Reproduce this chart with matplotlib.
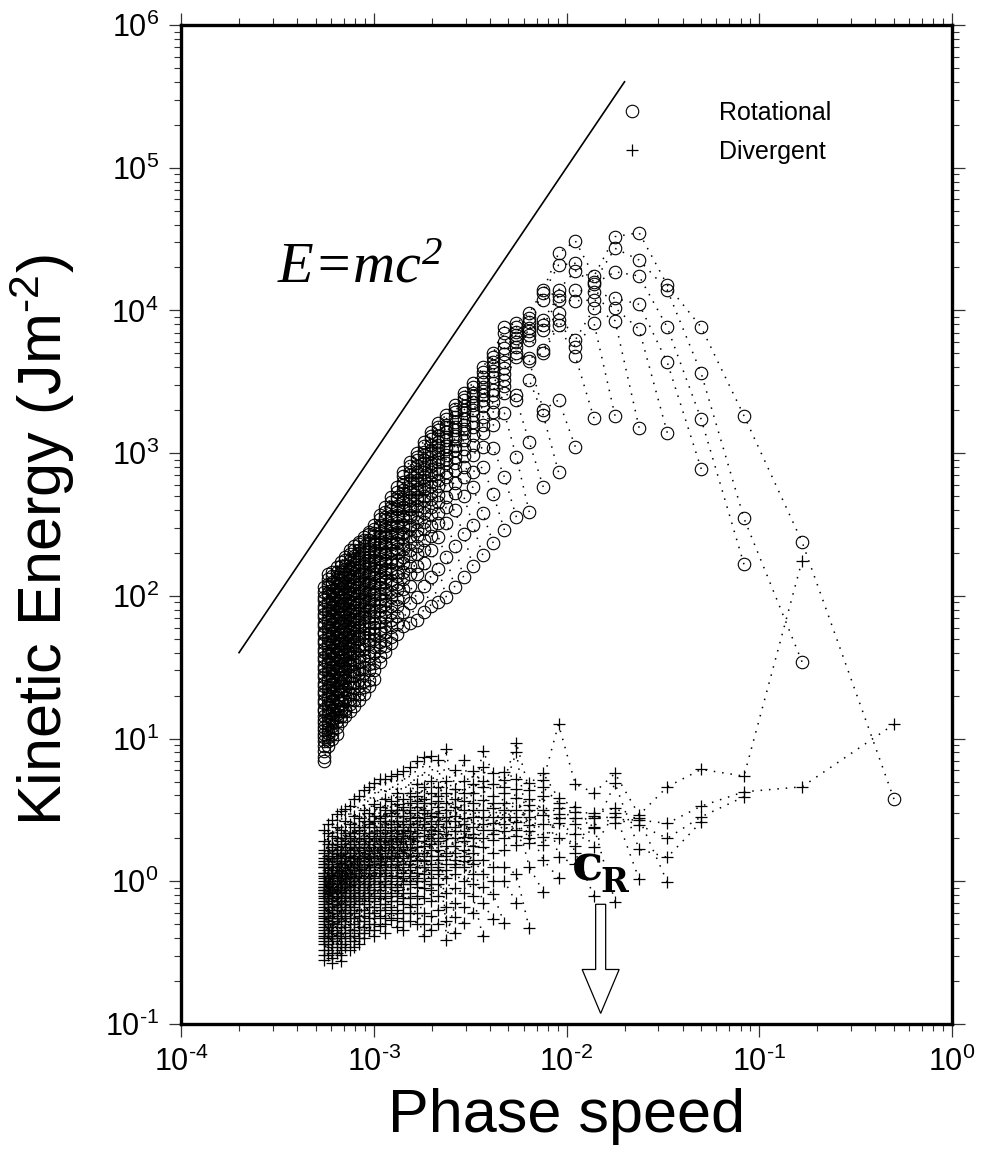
import numpy as np
import matplotlib
matplotlib.use("Agg")
import matplotlib.pyplot as plt
from matplotlib.patches import Polygon
from matplotlib.lines import Line2D
from matplotlib.ticker import LogLocator, NullFormatter, FuncFormatter

plt.rcParams['font.family'] = ['Liberation Sans', 'DejaVu Sans']
plt.rcParams['axes.unicode_minus'] = False
plt.rcParams['mathtext.fontset'] = 'custom'
plt.rcParams['mathtext.rm'] = 'Liberation Sans'
plt.rcParams['mathtext.default'] = 'regular'

# ---------------- data ----------------
# phase speed of each total-wavenumber column n = 1..42
phase_speed = [0.5, 0.1667, 0.08333, 0.05, 0.03333, 0.02381, 0.01786, 0.01389,
               0.01111, 0.009091, 0.007576, 0.006410, 0.005495, 0.004762, 0.004167,
               0.003676, 0.003268, 0.002924, 0.002632, 0.002381, 0.002165, 0.001976,
               0.001812, 0.001667, 0.001538, 0.001425, 0.001323, 0.001232, 0.001149,
               0.001075, 0.001008, 0.000947, 0.000891, 0.000840, 0.000794, 0.000751,
               0.000711, 0.000675, 0.000641, 0.000610, 0.000581, 0.000554]

# log10 of rotational kinetic energy, one list per column (m = 1..n)
rot_log10E = [
 [0.576],
 [2.379, 1.538],
 [3.262, 2.543, 2.221],
 [3.882, 3.559, 3.237, 2.889],
 [4.178, 4.143, 3.882, 3.636, 3.143],
 [4.545, 4.353, 4.241, 4.043, 3.867, 3.178],
 [4.517, 4.435, 4.271, 4.085, 4.019, 3.928, 3.262],
 [4.241, 4.200, 4.185, 4.129, 4.073, 4.015, 3.912, 3.244],
 [4.488, 4.330, 4.278, 4.143, 4.068, 3.793, 3.746, 3.680, 3.045],
 [4.400, 4.318, 4.143, 4.100, 4.073, 3.980, 3.930, 3.896, 3.372, 2.867],
 [4.143, 4.122, 4.073, 3.933, 3.898, 3.863, 3.722, 3.701, 3.302, 3.267, 2.763],
 [3.982, 3.947, 3.919, 3.877, 3.856, 3.828, 3.793, 3.666, 3.645, 3.512, 3.078, 2.587],
 [3.912, 3.884, 3.849, 3.828, 3.807, 3.779, 3.743, 3.701, 3.673, 3.407, 3.372, 2.973, 2.552],
 [3.884, 3.842, 3.779, 3.736, 3.694, 3.638, 3.596, 3.554, 3.512, 3.470, 3.421, 3.281, 2.832, 2.461],
 [3.701, 3.673, 3.638, 3.610, 3.575, 3.533, 3.491, 3.442, 3.407, 3.358, 3.288, 3.197, 3.036, 2.713, 2.370],
 [3.603, 3.568, 3.533, 3.498, 3.463, 3.435, 3.407, 3.372, 3.330, 3.253, 3.197, 3.141, 3.043, 2.903, 2.580, 2.286],
 [3.49, 3.46, 3.42, 3.40, 3.36, 3.34, 3.30, 3.27, 3.22, 3.18, 3.13, 3.06, 2.99, 2.87, 2.76, 2.50, 2.21],
 [3.42, 3.39, 3.37, 3.33, 3.30, 3.28, 3.24, 3.20, 3.17, 3.14, 3.09, 3.03, 2.98, 2.90, 2.83, 2.70, 2.43, 2.13],
 [3.34, 3.31, 3.29, 3.25, 3.22, 3.18, 3.16, 3.12, 3.10, 3.05, 3.02, 2.97, 2.93, 2.88, 2.79, 2.72, 2.60, 2.35, 2.06],
 [3.27, 3.24, 3.20, 3.18, 3.15, 3.11, 3.09, 3.05, 3.03, 2.99, 2.96, 2.93, 2.87, 2.83, 2.78, 2.69, 2.62, 2.51, 2.27, 1.99],
 [3.21, 3.18, 3.16, 3.12, 3.08, 3.06, 3.02, 3.00, 2.96, 2.94, 2.89, 2.86, 2.81, 2.77, 2.71, 2.66, 2.58, 2.51, 2.41, 2.19, 1.96],
 [3.15, 3.12, 3.10, 3.06, 3.02, 3.00, 2.97, 2.93, 2.91, 2.87, 2.85, 2.80, 2.77, 2.72, 2.68, 2.62, 2.57, 2.49, 2.42, 2.32, 2.13, 1.93],
 [3.08, 3.05, 3.01, 2.99, 2.95, 2.93, 2.89, 2.87, 2.83, 2.81, 2.77, 2.75, 2.70, 2.67, 2.62, 2.58, 2.52, 2.47, 2.39, 2.32, 2.23, 2.07, 1.89],
 [3.00, 2.97, 2.95, 2.91, 2.87, 2.85, 2.81, 2.79, 2.75, 2.73, 2.69, 2.67, 2.63, 2.60, 2.55, 2.52, 2.46, 2.42, 2.35, 2.29, 2.21, 2.15, 1.99, 1.83],
 [2.94, 2.91, 2.87, 2.85, 2.81, 2.79, 2.75, 2.73, 2.69, 2.67, 2.63, 2.61, 2.57, 2.55, 2.50, 2.47, 2.42, 2.38, 2.32, 2.28, 2.21, 2.15, 2.07, 1.95, 1.81],
 [2.87, 2.84, 2.80, 2.78, 2.74, 2.72, 2.68, 2.66, 2.62, 2.60, 2.56, 2.54, 2.50, 2.48, 2.44, 2.41, 2.36, 2.33, 2.27, 2.23, 2.17, 2.12, 2.05, 1.99, 1.89, 1.79],
 [2.76, 2.73, 2.69, 2.67, 2.63, 2.61, 2.57, 2.55, 2.51, 2.49, 2.45, 2.43, 2.39, 2.37, 2.33, 2.30, 2.25, 2.22, 2.17, 2.14, 2.08, 2.04, 1.98, 1.93, 1.86, 1.80, 1.73],
 [2.69, 2.66, 2.62, 2.60, 2.56, 2.54, 2.50, 2.48, 2.44, 2.42, 2.38, 2.36, 2.32, 2.30, 2.26, 2.24, 2.19, 2.16, 2.11, 2.08, 2.03, 1.99, 1.93, 1.89, 1.83, 1.78, 1.71, 1.67],
 [2.62, 2.59, 2.55, 2.53, 2.49, 2.47, 2.43, 2.41, 2.37, 2.35, 2.31, 2.29, 2.25, 2.23, 2.19, 2.17, 2.13, 2.10, 2.05, 2.02, 1.97, 1.94, 1.89, 1.85, 1.79, 1.75, 1.69, 1.65, 1.61],
 [2.57, 2.54, 2.50, 2.48, 2.44, 2.42, 2.38, 2.36, 2.32, 2.30, 2.26, 2.24, 2.20, 2.18, 2.14, 2.12, 2.08, 2.06, 2.01, 1.98, 1.93, 1.90, 1.85, 1.82, 1.77, 1.74, 1.68, 1.64, 1.58, 1.54],
 [2.50, 2.47, 2.44, 2.42, 2.38, 2.36, 2.32, 2.31, 2.27, 2.25, 2.21, 2.19, 2.15, 2.13, 2.09, 2.07, 2.03, 2.01, 1.97, 1.94, 1.89, 1.86, 1.81, 1.78, 1.73, 1.70, 1.64, 1.60, 1.53, 1.48, 1.42],
 [2.45, 2.43, 2.39, 2.37, 2.33, 2.31, 2.27, 2.25, 2.22, 2.20, 2.16, 2.14, 2.10, 2.08, 2.04, 2.02, 1.98, 1.96, 1.92, 1.90, 1.85, 1.82, 1.77, 1.74, 1.69, 1.66, 1.61, 1.58, 1.52, 1.48, 1.41, 1.37],
 [2.41, 2.39, 2.35, 2.33, 2.29, 2.27, 2.23, 2.21, 2.17, 2.15, 2.11, 2.09, 2.05, 2.03, 1.99, 1.97, 1.93, 1.91, 1.87, 1.85, 1.81, 1.79, 1.74, 1.71, 1.66, 1.63, 1.58, 1.55, 1.50, 1.46, 1.40, 1.36, 1.31],
 [2.38, 2.36, 2.32, 2.30, 2.26, 2.24, 2.20, 2.18, 2.14, 2.12, 2.08, 2.06, 2.02, 2.00, 1.96, 1.94, 1.90, 1.88, 1.84, 1.82, 1.78, 1.76, 1.72, 1.70, 1.65, 1.62, 1.57, 1.54, 1.49, 1.46, 1.41, 1.37, 1.31, 1.27],
 [2.35, 2.32, 2.28, 2.26, 2.22, 2.20, 2.16, 2.14, 2.10, 2.08, 2.04, 2.02, 1.98, 1.96, 1.92, 1.90, 1.86, 1.84, 1.80, 1.78, 1.74, 1.72, 1.68, 1.66, 1.62, 1.60, 1.55, 1.52, 1.47, 1.44, 1.39, 1.36, 1.31, 1.27, 1.23],
 [2.32, 2.29, 2.25, 2.23, 2.19, 2.17, 2.13, 2.11, 2.07, 2.05, 2.01, 1.99, 1.95, 1.93, 1.89, 1.87, 1.83, 1.81, 1.77, 1.75, 1.71, 1.69, 1.65, 1.63, 1.59, 1.57, 1.53, 1.51, 1.47, 1.44, 1.39, 1.36, 1.31, 1.28, 1.24, 1.19],
 [2.27, 2.25, 2.21, 2.19, 2.15, 2.13, 2.09, 2.07, 2.03, 2.01, 1.97, 1.95, 1.91, 1.89, 1.85, 1.83, 1.79, 1.77, 1.73, 1.71, 1.67, 1.65, 1.61, 1.59, 1.55, 1.53, 1.49, 1.47, 1.43, 1.41, 1.37, 1.34, 1.29, 1.26, 1.21, 1.19, 1.16],
 [2.24, 2.21, 2.17, 2.15, 2.11, 2.09, 2.05, 2.03, 1.99, 1.97, 1.93, 1.91, 1.87, 1.85, 1.81, 1.79, 1.75, 1.73, 1.69, 1.67, 1.63, 1.61, 1.57, 1.55, 1.51, 1.49, 1.45, 1.43, 1.39, 1.37, 1.33, 1.31, 1.27, 1.25, 1.21, 1.19, 1.16, 1.12],
 [2.20, 2.17, 2.13, 2.11, 2.07, 2.05, 2.01, 1.99, 1.95, 1.93, 1.89, 1.87, 1.83, 1.81, 1.77, 1.75, 1.71, 1.69, 1.65, 1.63, 1.59, 1.57, 1.53, 1.51, 1.47, 1.45, 1.41, 1.39, 1.35, 1.33, 1.29, 1.27, 1.23, 1.21, 1.17, 1.15, 1.12, 1.08, 1.03],
 [2.17, 2.14, 2.10, 2.08, 2.04, 2.02, 1.98, 1.96, 1.92, 1.90, 1.86, 1.84, 1.80, 1.78, 1.74, 1.72, 1.68, 1.66, 1.62, 1.60, 1.56, 1.54, 1.50, 1.48, 1.44, 1.42, 1.38, 1.36, 1.32, 1.30, 1.26, 1.24, 1.20, 1.18, 1.14, 1.12, 1.09, 1.06, 1.03, 1.00],
 [2.15, 2.12, 2.08, 2.06, 2.02, 2.00, 1.96, 1.94, 1.90, 1.88, 1.84, 1.82, 1.78, 1.76, 1.72, 1.70, 1.66, 1.64, 1.60, 1.58, 1.54, 1.52, 1.48, 1.46, 1.42, 1.40, 1.36, 1.34, 1.30, 1.28, 1.24, 1.22, 1.18, 1.16, 1.12, 1.10, 1.07, 1.04, 1.01, 0.98, 0.95],
 [2.06, 2.03, 1.99, 1.97, 1.93, 1.91, 1.87, 1.85, 1.81, 1.79, 1.75, 1.73, 1.69, 1.67, 1.63, 1.61, 1.57, 1.55, 1.51, 1.49, 1.45, 1.43, 1.39, 1.37, 1.33, 1.31, 1.27, 1.25, 1.21, 1.19, 1.16, 1.13, 1.11, 1.08, 1.06, 1.03, 1.01, 0.98, 0.95, 0.91, 0.87, 0.84],
]

# log10 of divergent kinetic energy, one list per column (m = 1..n)
div_log10E = [
 [1.100],
 [0.662, 2.246],
 [0.627, 0.737, 0.592],
 [0.527, 0.784, 0.452, 0.417],
 [0.406, 0.662, 0.301, 0.168, -0.005],
 [0.429, 0.464, 0.394, 0.224, 0.440, 0.014],
 [0.511, 0.756, 0.452, 0.686, 0.406, 0.480, -0.144],
 [0.476, 0.620, 0.441, 0.371, 0.460, 0.242, 0.380, -0.104],
 [0.485, 0.681, 0.440, 0.520, 0.330, 0.400, 0.250, 0.200, 0.120],
 [0.511, 1.100, 0.441, 0.581, 0.406, 0.550, 0.300, 0.470, 0.173, 0.022],
 [0.464, 0.709, 0.400, 0.756, 0.312, 0.658, 0.500, 0.254, 0.600, 0.150, -0.073],
 [0.499, 0.639, 0.394, 0.686, 0.534, 0.301, 0.580, 0.450, 0.266, 0.350, 0.100, -0.330],
 [0.417, 0.970, 0.581, 0.714, 0.359, 0.907, 0.500, 0.320, 0.650, 0.254, 0.450, 0.050, -0.150],
 [0.450, 0.709, 0.400, 0.767, 0.550, 0.660, 0.350, 0.499, 0.300, 0.620, 0.219, 0.100, 0.000, -0.295],
 [0.406, 0.756, 0.511, 0.600, 0.360, 0.680, 0.450, 0.290, 0.550, 0.330, 0.200, 0.100, 0.000, -0.090, -0.267],
 [0.452, 0.915, 0.569, 0.798, 0.400, 0.662, 0.500, 0.700, 0.360, 0.300, 0.242, 0.150, 0.050, -0.038, -0.150, -0.384],
 [0.30, 0.55, 0.45, 0.62, 0.20, 0.77, 0.38, 0.12, 0.50, 0.25, 0.68, 0.05, 0.33, -0.02, 0.15, -0.10, -0.22],
 [0.40, 0.85, 0.28, 0.62, 0.50, 0.18, 0.70, 0.35, 0.10, 0.56, 0.22, 0.44, 0.00, 0.31, -0.08, 0.14, -0.18, -0.29],
 [0.35, 0.42, 0.52, 0.20, 0.65, 0.78, 0.10, 0.58, 0.30, 0.46, 0.15, 0.38, 0.05, 0.25, -0.05, 0.12, -0.15, -0.25, -0.36],
 [0.45, 0.93, 0.30, 0.70, 0.55, 0.20, 0.62, 0.38, 0.12, 0.50, 0.25, 0.42, 0.02, 0.33, -0.08, 0.18, -0.41, 0.08, -0.28, -0.18],
 [0.28, 0.40, 0.48, 0.60, 0.15, 0.85, 0.66, 0.22, 0.52, 0.05, 0.35, 0.45, 0.10, 0.30, -0.02, 0.18, 0.56, -0.10, 0.08, -0.20, -0.30],
 [0.36, 0.88, 0.22, 0.62, 0.48, 0.12, 0.70, 0.30, 0.42, 0.02, 0.55, 0.26, 0.18, 0.38, -0.06, 0.33, 0.08, -0.14, 0.46, -0.02, -0.24, -0.34],
 [0.25, 0.36, 0.44, 0.58, 0.15, 0.87, 0.66, 0.05, 0.50, 0.28, 0.40, 0.10, 0.55, 0.20, -0.05, 0.32, 0.00, 0.48, -0.12, 0.14, -0.22, -0.30, -0.38],
 [0.32, 0.84, 0.20, 0.60, 0.45, 0.10, 0.52, 0.28, 0.68, 0.02, 0.38, 0.15, 0.42, -0.04, 0.24, 0.56, 0.06, 0.34, -0.10, 0.18, -0.30, 0.00, -0.22, -0.16],
 [0.22, 0.48, 0.40, 0.55, 0.12, 0.80, 0.30, 0.62, 0.04, 0.35, 0.18, 0.44, -0.02, 0.26, 0.50, 0.08, 0.32, -0.08, 0.14, 0.38, -0.12, 0.00, -0.18, -0.22, -0.28],
 [0.30, 0.77, 0.16, 0.52, 0.40, 0.06, 0.58, 0.24, 0.46, -0.02, 0.34, 0.12, 0.42, 0.20, -0.08, 0.28, 0.50, 0.02, 0.36, -0.12, 0.10, -0.16, 0.22, -0.22, -0.28, -0.34],
 [0.18, 0.42, 0.36, 0.50, 0.08, 0.75, 0.26, 0.62, 0.00, 0.32, 0.14, 0.46, -0.04, 0.22, 0.38, 0.04, 0.28, -0.10, 0.12, 0.54, -0.14, 0.20, -0.06, 0.30, -0.20, -0.26, -0.32],
 [0.26, 0.74, 0.12, 0.48, 0.36, 0.02, 0.56, 0.20, 0.42, -0.04, 0.30, 0.08, 0.40, 0.16, -0.10, 0.24, 0.50, -0.02, 0.34, 0.10, -0.14, 0.18, 0.04, 0.28, -0.27, -0.08, -0.22, -0.18],
 [0.14, 0.38, 0.32, 0.46, 0.04, 0.72, 0.22, 0.58, -0.02, 0.28, 0.10, 0.42, -0.08, 0.18, 0.34, 0.00, 0.24, -0.12, 0.08, 0.50, -0.16, 0.16, -0.04, 0.26, -0.20, 0.06, -0.26, -0.30, -0.36],
 [0.22, 0.72, 0.08, 0.44, 0.32, -0.02, 0.52, 0.16, 0.38, -0.06, 0.26, 0.04, 0.36, 0.12, -0.12, 0.20, 0.46, -0.04, 0.30, 0.06, -0.16, 0.14, 0.00, 0.24, -0.20, 0.10, -0.10, 0.28, -0.24, -0.31],
 [0.10, 0.34, 0.28, 0.42, 0.00, 0.69, 0.18, 0.54, -0.06, 0.24, 0.06, 0.38, -0.10, 0.14, 0.30, -0.02, 0.20, -0.14, 0.04, 0.46, -0.18, 0.12, -0.08, 0.22, -0.22, 0.02, -0.26, 0.16, -0.30, -0.34, -0.38],
 [0.18, 0.66, 0.04, 0.40, 0.28, -0.04, 0.48, 0.12, 0.34, -0.08, 0.22, 0.00, 0.32, 0.08, -0.14, 0.16, 0.42, -0.06, 0.26, 0.02, -0.18, 0.10, -0.02, 0.20, -0.22, 0.06, -0.12, 0.24, -0.34, 0.14, -0.30, -0.26],
 [0.06, 0.30, 0.24, 0.38, -0.02, 0.64, 0.14, 0.50, -0.08, 0.20, 0.02, 0.34, -0.12, 0.10, 0.26, -0.04, 0.16, -0.16, 0.00, 0.42, -0.20, 0.08, -0.10, 0.18, -0.24, -0.02, -0.28, 0.12, -0.32, 0.22, -0.36, -0.06, -0.40],
 [0.14, 0.60, 0.00, 0.36, 0.24, -0.06, 0.44, 0.08, 0.30, -0.10, 0.18, -0.02, 0.28, 0.04, -0.16, 0.12, 0.38, -0.08, 0.22, -0.04, -0.20, 0.06, -0.12, 0.16, -0.24, 0.02, -0.14, 0.20, -0.28, 0.10, -0.32, -0.36, -0.40, -0.44],
 [0.02, 0.26, 0.20, 0.34, -0.04, 0.58, 0.10, 0.46, -0.10, 0.16, 0.00, 0.30, -0.14, 0.06, 0.22, -0.06, 0.12, -0.18, -0.02, 0.38, -0.22, 0.04, -0.12, 0.14, -0.26, -0.04, -0.30, 0.08, -0.34, 0.18, -0.38, -0.08, -0.42, 0.24, -0.46],
 [0.10, 0.53, -0.02, 0.32, 0.20, -0.08, 0.40, 0.04, 0.26, -0.12, 0.14, -0.04, 0.24, 0.00, -0.18, 0.08, 0.34, -0.10, 0.18, -0.06, -0.22, 0.02, -0.14, 0.12, -0.26, -0.02, -0.16, 0.16, -0.30, 0.06, -0.34, -0.38, -0.48, -0.42, -0.20, 0.28],
 [-0.02, 0.22, 0.16, 0.30, -0.06, 0.51, 0.06, 0.42, -0.12, 0.12, -0.04, 0.26, -0.16, 0.02, 0.18, -0.08, 0.08, -0.20, -0.04, 0.34, -0.24, 0.00, -0.14, 0.10, -0.28, -0.06, -0.32, 0.04, -0.36, 0.14, -0.40, -0.10, -0.44, 0.20, -0.18, -0.26, -0.46],
 [0.06, 0.49, -0.04, 0.28, 0.16, -0.10, 0.36, 0.00, 0.22, -0.14, 0.10, -0.06, 0.20, -0.02, -0.20, 0.04, 0.30, -0.12, 0.14, -0.08, -0.24, -0.02, -0.16, 0.08, -0.28, -0.04, -0.18, 0.12, -0.32, 0.02, -0.36, -0.40, 0.24, -0.44, -0.22, -0.48, -0.52, -0.56],
 [-0.04, 0.18, 0.12, 0.26, -0.08, 0.47, 0.02, 0.38, -0.14, 0.08, -0.06, 0.22, -0.18, -0.02, 0.14, -0.10, 0.04, -0.22, -0.06, 0.30, -0.26, -0.04, -0.16, 0.06, -0.30, -0.08, -0.34, 0.00, -0.38, 0.10, -0.42, -0.12, -0.46, 0.16, -0.20, -0.28, 0.20, -0.36, -0.50],
 [0.02, 0.43, -0.06, 0.24, 0.12, -0.12, 0.32, -0.02, 0.18, -0.16, 0.06, -0.08, 0.16, -0.04, -0.22, 0.00, 0.26, -0.14, 0.10, -0.10, -0.26, -0.04, -0.18, 0.04, -0.30, -0.06, -0.20, 0.08, -0.34, -0.02, -0.38, -0.42, 0.20, -0.46, -0.24, -0.50, -0.57, -0.32, -0.54, 0.14],
 [-0.06, 0.14, 0.08, 0.22, -0.10, 0.40, 0.00, 0.34, -0.16, 0.04, -0.08, 0.18, -0.20, -0.04, 0.10, -0.12, 0.02, -0.24, -0.08, 0.26, -0.28, -0.06, -0.18, 0.04, -0.32, -0.10, -0.36, -0.02, -0.40, 0.06, -0.44, -0.14, -0.48, 0.12, -0.22, -0.30, 0.16, -0.38, -0.26, -0.34, -0.52],
 [0.00, 0.36, -0.08, 0.20, 0.10, -0.14, 0.28, -0.04, 0.14, -0.18, 0.04, -0.10, 0.12, -0.06, -0.24, -0.02, 0.22, -0.16, 0.06, -0.12, -0.28, -0.06, -0.20, 0.02, -0.32, -0.08, -0.22, 0.06, -0.36, -0.04, -0.40, -0.44, 0.16, -0.48, -0.26, -0.52, 0.10, -0.30, -0.34, -0.38, -0.42, -0.55],
]

# reference line E ~ c^2 (end points)
ref_c = [2e-4, 2e-2]
ref_E = [40.0, 4.0e5]

# c_R marker arrow (phase speed, and energies of shaft top / head base / tip)
arrow_c = 0.01504
arrow_E_top, arrow_E_head, arrow_E_tip = 0.69, 0.241, 0.1186

# ---------------- figure ----------------
W, H = 983, 1157
fig = plt.figure(figsize=(W / 100, H / 100), dpi=100)
ax = fig.add_axes([181 / W, 1 - 1024 / H, (952 - 181) / W, (1024 - 25) / H])
ax.set_xscale('log')
ax.set_yscale('log')
ax.set_xlim(1e-4, 1)
ax.set_ylim(1e-1, 1e6)

dot = dict(color='black', lw=1.1, ls=(0, (1, 4.5)), zorder=1)

def draw_family(cols, marker, **mk):
    nmax = len(cols)
    for m in range(1, nmax + 1):
        xs, ys = [], []
        for n in range(m, nmax + 1):
            col = cols[n - 1]
            if m - 1 < len(col):
                xs.append(phase_speed[n - 1])
                ys.append(10 ** col[m - 1])
        if len(xs) > 1:
            ax.plot(xs, ys, **dot)
    allx, ally = [], []
    for n, col in enumerate(cols, start=1):
        allx += [phase_speed[n - 1]] * len(col)
        ally += [10 ** v for v in col]
    ax.plot(allx, ally, ls='none', marker=marker, zorder=3, **mk)

draw_family(rot_log10E, 'o', mfc='none', mec='black', ms=9.0, mew=0.8)
draw_family(div_log10E, '+', color='black', ms=9.0, mew=0.9)

ax.plot(ref_c, ref_E, color='black', lw=1.2, zorder=2)

# axes styling
def pow10(v, pos):
    e = int(round(np.log10(v)))
    return r'$10^{\text{%d}}$' % e

for s in ax.spines.values():
    s.set_linewidth(2.4)
ax.xaxis.set_major_locator(LogLocator(base=10, numticks=10))
ax.xaxis.set_minor_locator(LogLocator(base=10, subs=np.arange(2, 10), numticks=20))
ax.yaxis.set_major_locator(LogLocator(base=10, numticks=12))
ax.yaxis.set_minor_locator(LogLocator(base=10, subs=np.arange(2, 10), numticks=20))
ax.xaxis.set_major_formatter(FuncFormatter(pow10))
ax.yaxis.set_major_formatter(FuncFormatter(pow10))
ax.xaxis.set_minor_formatter(NullFormatter())
ax.yaxis.set_minor_formatter(NullFormatter())
ax.tick_params(which='both', direction='out', top=True, right=True,
               labeltop=False, labelright=False, labelsize=22, color='#333333')
ax.tick_params(which='major', length=9, width=0.9, pad=7)
ax.tick_params(which='minor', length=5, width=0.8)

ax.set_xlabel('Phase speed', fontsize=44)
ax.set_ylabel(r'Kinetic Energy (Jm$^{\text{-2}}$)', fontsize=44)
ax.xaxis.set_label_coords(0.5, -0.064)
ax.yaxis.set_label_coords(-0.135, 0.484)

# legend
handles = [Line2D([], [], ls='none', marker='o', mfc='none', mec='black', ms=9, mew=0.8),
           Line2D([], [], ls='none', marker='+', color='black', ms=9, mew=0.9)]
ax.legend(handles, ['Rotational', 'Divergent'], loc='upper left',
          bbox_to_anchor=(0.539, 0.9465), frameon=False, fontsize=18,
          handlelength=1.0, handletextpad=3.0, labelspacing=0.59, borderpad=0.4)

# annotations
ax.text(3.15e-4, 1.58e4, 'E=mc$^{2}$', fontsize=42, family='Liberation Serif',
        style='italic', va='baseline', ha='left')
ax.text(0.0107, 1.02, 'c', fontsize=37, family='DejaVu Serif', weight='bold',
        va='baseline', ha='left')
ax.text(0.0150, 0.84, 'R', fontsize=24, family='DejaVu Serif', weight='bold',
        va='baseline', ha='left')

lx = np.log10(arrow_c)
sw, hw = 0.026, 0.096
verts = [(lx - sw, arrow_E_top), (lx + sw, arrow_E_top), (lx + sw, arrow_E_head),
         (lx + hw, arrow_E_head), (lx, arrow_E_tip), (lx - hw, arrow_E_head),
         (lx - sw, arrow_E_head)]
verts = [(10 ** a, b) for a, b in verts]
ax.add_patch(Polygon(verts, closed=True, facecolor='white', edgecolor='black',
                     lw=0.9, zorder=4))

fig.savefig('out.png', dpi=100)
